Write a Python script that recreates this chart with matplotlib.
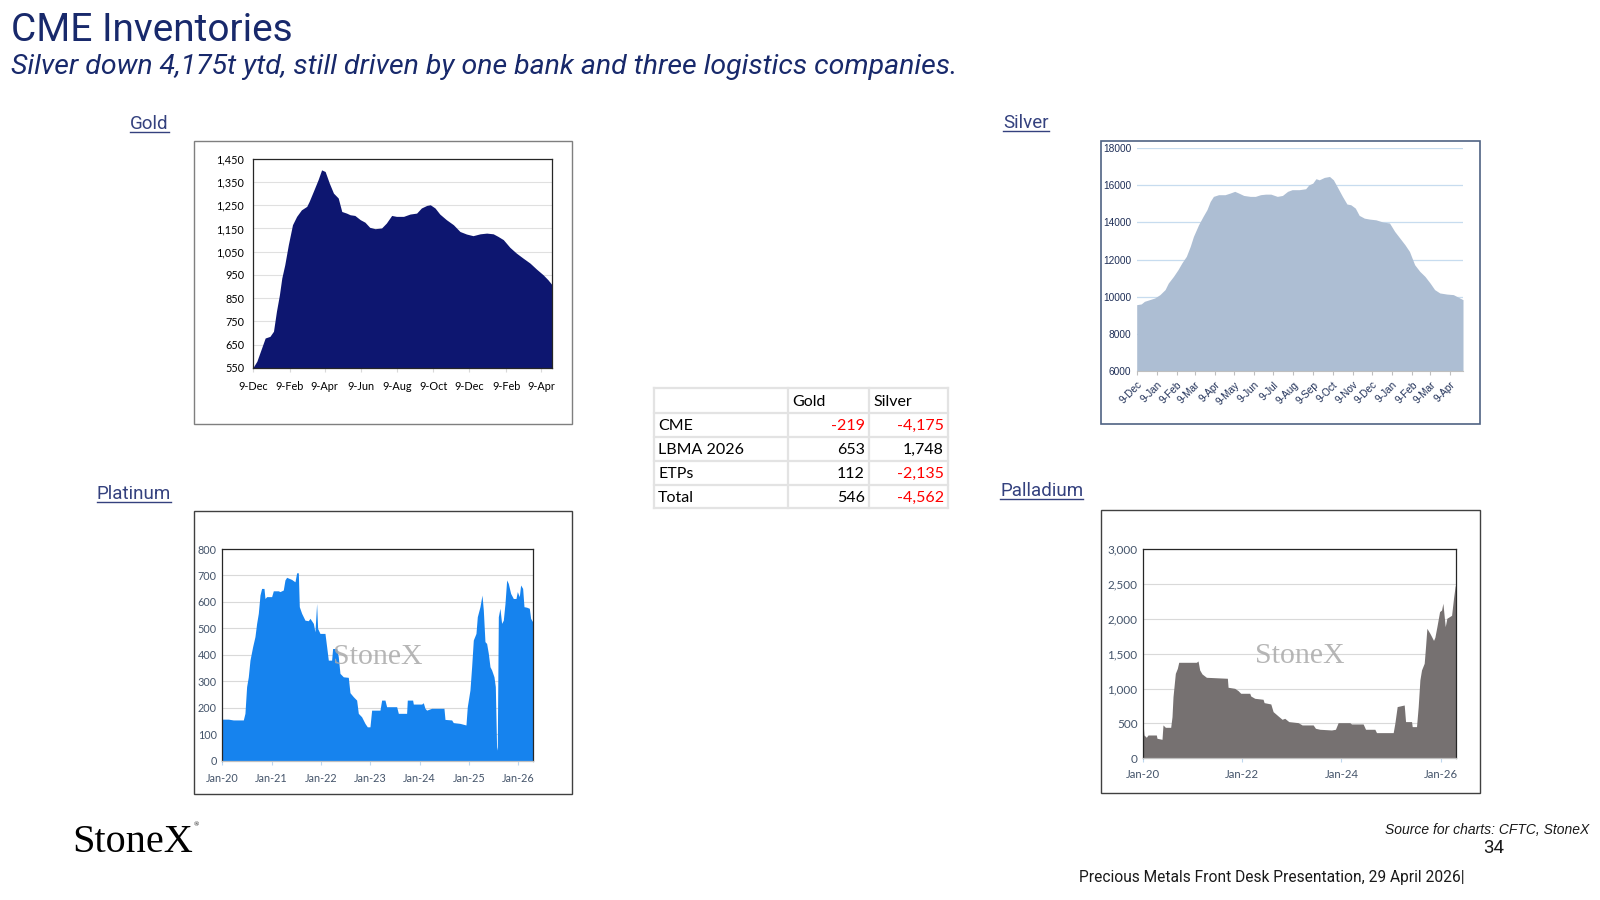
import matplotlib
matplotlib.use("Agg")
import matplotlib.pyplot as plt
from matplotlib.patches import Rectangle
from matplotlib.lines import Line2D
from matplotlib.ticker import FuncFormatter
import pandas as pd

W, H = 1600, 900

# ---- data ----
gold_dates = ['2024-12-09', '2024-12-16', '2024-12-24', '2024-12-30', '2025-01-07', '2025-01-13', '2025-01-18',
              '2025-01-23', '2025-01-27', '2025-02-01', '2025-02-07', '2025-02-14', '2025-02-21', '2025-03-01',
              '2025-03-10', '2025-03-14', '2025-03-21', '2025-03-29', '2025-04-04', '2025-04-10', '2025-04-17',
              '2025-04-24', '2025-05-02', '2025-05-08', '2025-05-16', '2025-05-22', '2025-05-30', '2025-06-08',
              '2025-06-16', '2025-06-24', '2025-07-03', '2025-07-14', '2025-07-22', '2025-07-31', '2025-08-08',
              '2025-08-20', '2025-08-31', '2025-09-11', '2025-09-19', '2025-09-28', '2025-10-04', '2025-10-12',
              '2025-10-20', '2025-10-31', '2025-11-12', '2025-11-23', '2025-12-04', '2025-12-15', '2025-12-27',
              '2026-01-07', '2026-01-18', '2026-01-26', '2026-02-04', '2026-02-15', '2026-02-26', '2026-03-09',
              '2026-03-21', '2026-04-01', '2026-04-12', '2026-04-20', '2026-04-27']
gold_vals = [550, 579, 636, 679, 686, 708, 794, 865, 937, 994, 1080, 1166, 1202, 1230, 1245, 1266, 1309, 1359,
             1402, 1395, 1345, 1302, 1281, 1223, 1216, 1209, 1206, 1188, 1177, 1155, 1149, 1152, 1173, 1206, 1202,
             1202, 1212, 1216, 1238, 1249, 1252, 1238, 1212, 1188, 1166, 1137, 1126, 1119, 1127, 1130, 1127, 1116,
             1102, 1069, 1044, 1023, 1001, 975, 951, 930, 908]
gold_tick_dates = ['2024-12-09', '2025-02-09', '2025-04-09', '2025-06-09', '2025-08-09', '2025-10-09',
                   '2025-12-09', '2026-02-09', '2026-04-09']
gold_tick_labels = ['9-Dec', '9-Feb', '9-Apr', '9-Jun', '9-Aug', '9-Oct', '9-Dec', '9-Feb', '9-Apr']

silver_dates = ['2024-12-09', '2024-12-16', '2024-12-21', '2024-12-29', '2025-01-06', '2025-01-14', '2025-01-22',
                '2025-01-27', '2025-02-04', '2025-02-11', '2025-02-17', '2025-02-24', '2025-03-02', '2025-03-07',
                '2025-03-15', '2025-03-22', '2025-03-28', '2025-04-02', '2025-04-07', '2025-04-15', '2025-04-25',
                '2025-05-03', '2025-05-10', '2025-05-16', '2025-05-24', '2025-06-03', '2025-06-11', '2025-06-19',
                '2025-06-27', '2025-07-05', '2025-07-15', '2025-07-23', '2025-07-31', '2025-08-07', '2025-08-18',
                '2025-08-28', '2025-09-02', '2025-09-08', '2025-09-13', '2025-09-18', '2025-09-26', '2025-10-04',
                '2025-10-10', '2025-10-17', '2025-10-24', '2025-10-31', '2025-11-06', '2025-11-13', '2025-11-19',
                '2025-11-27', '2025-12-05', '2025-12-15', '2025-12-26', '2026-01-05', '2026-01-13', '2026-01-21',
                '2026-01-29', '2026-02-05', '2026-02-13', '2026-02-21', '2026-03-01', '2026-03-09', '2026-03-16',
                '2026-03-24', '2026-04-04', '2026-04-14', '2026-04-24', '2026-04-29']
silver_vals = [9580, 9620, 9760, 9850, 9940, 10120, 10390, 10740, 11100, 11460, 11820, 12180, 12710, 13250,
               13880, 14330, 14690, 15130, 15400, 15490, 15490, 15580, 15670, 15580, 15450, 15400, 15400, 15490,
               15520, 15520, 15400, 15450, 15670, 15760, 15760, 15810, 16020, 16110, 16350, 16290, 16420, 16470,
               16290, 15850, 15400, 14990, 14950, 14770, 14380, 14230, 14180, 14140, 14020, 13970, 13520, 13160,
               12800, 12440, 11730, 11370, 11100, 10740, 10390, 10210, 10150, 10120, 9940, 9850]
silver_tick_dates = ['2024-12-09', '2025-01-09', '2025-02-09', '2025-03-09', '2025-04-09', '2025-05-09',
                     '2025-06-09', '2025-07-09', '2025-08-09', '2025-09-09', '2025-10-09', '2025-11-09',
                     '2025-12-09', '2026-01-09', '2026-02-09', '2026-03-09', '2026-04-09']
silver_tick_labels = ['9-Dec', '9-Jan', '9-Feb', '9-Mar', '9-Apr', '9-May', '9-Jun', '9-Jul', '9-Aug', '9-Sep',
                      '9-Oct', '9-Nov', '9-Dec', '9-Jan', '9-Feb', '9-Mar', '9-Apr']

# platinum / palladium: time in years since Jan-2020
plat_t = [0.000, 0.122, 0.223, 0.426, 0.459, 0.493, 0.527, 0.561, 0.615, 0.662, 0.696, 0.730, 0.764, 0.797,
          0.845, 0.865, 0.899, 1.000, 1.034, 1.135, 1.169, 1.236, 1.270, 1.304, 1.405, 1.473, 1.507, 1.541,
          1.561, 1.608, 1.676, 1.743, 1.777, 1.845, 1.878, 1.912, 1.932, 1.980, 2.081, 2.115, 2.149, 2.216,
          2.236, 2.318, 2.351, 2.385, 2.453, 2.554, 2.588, 2.655, 2.723, 2.757, 2.824, 2.892, 2.939, 2.993,
          3.027, 3.196, 3.230, 3.297, 3.331, 3.534, 3.568, 3.736, 3.750, 3.858, 3.872, 4.041, 4.074, 4.108,
          4.142, 4.243, 4.493, 4.514, 4.649, 4.682, 4.818, 4.939, 4.966, 5.020, 5.054, 5.088, 5.142, 5.169,
          5.223, 5.264, 5.291, 5.324, 5.358, 5.392, 5.426, 5.459, 5.507, 5.534, 5.561, 5.574, 5.595, 5.628,
          5.662, 5.696, 5.730, 5.764, 5.797, 5.845, 5.899, 5.953, 5.980, 6.020, 6.047, 6.088, 6.115, 6.169,
          6.223, 6.250, 6.291]
plat_vals = [157, 157, 154, 154, 179, 280, 317, 380, 431, 469, 519, 557, 626, 651, 651, 613, 620, 620, 642, 642,
             639, 645, 683, 693, 685, 676, 710, 710, 582, 557, 531, 529, 538, 519, 487, 594, 500, 481, 481, 431,
             380, 380, 424, 424, 393, 330, 317, 315, 257, 242, 229, 179, 166, 141, 128, 128, 191, 191, 229, 229,
             204, 204, 179, 179, 229, 229, 214, 214, 219, 198, 191, 198, 198, 156, 154, 144, 141, 135, 204, 267,
             355, 456, 481, 544, 582, 626, 569, 450, 443, 406, 355, 343, 317, 280, 40, 53, 544, 576, 519, 531,
             594, 683, 670, 632, 613, 613, 639, 620, 664, 651, 582, 580, 576, 538, 525]
plat_ticks = [0, 1, 2, 3, 4, 5, 6]
plat_tick_labels = ['Jan-20', 'Jan-21', 'Jan-22', 'Jan-23', 'Jan-24', 'Jan-25', 'Jan-26']

pall_t = [0.000, 0.020, 0.067, 0.101, 0.269, 0.282, 0.383, 0.403, 0.451, 0.558, 0.585, 0.605, 0.652, 0.693,
          0.720, 1.076, 1.110, 1.143, 1.190, 1.278, 1.701, 1.715, 1.849, 1.917, 1.970, 2.152, 2.172, 2.253,
          2.421, 2.441, 2.576, 2.623, 2.724, 2.804, 2.858, 2.939, 3.127, 3.208, 3.430, 3.477, 3.564, 3.800,
          3.880, 3.934, 4.169, 4.203, 4.438, 4.486, 4.674, 4.707, 5.044, 5.077, 5.124, 5.266, 5.293, 5.414,
          5.427, 5.514, 5.548, 5.582, 5.615, 5.669, 5.696, 5.723, 5.783, 5.857, 5.884, 5.925, 5.979, 6.019,
          6.046, 6.093, 6.126, 6.180, 6.221, 6.261, 6.295, 6.310]
pall_vals = [526, 334, 301, 334, 334, 287, 272, 478, 444, 444, 597, 884, 1218, 1290, 1376, 1376, 1395, 1266,
             1209, 1161, 1147, 1018, 1003, 970, 932, 932, 893, 860, 846, 798, 779, 669, 607, 559, 573, 526, 511,
             478, 478, 430, 416, 406, 416, 511, 511, 492, 492, 416, 416, 368, 368, 502, 741, 764, 526, 526, 454,
             454, 741, 1123, 1266, 1362, 1601, 1863, 1792, 1690, 1734, 1887, 2102, 2126, 2222, 1887, 2007, 2031,
             2050, 2300, 2480, 2420]
pall_ticks = [0, 2, 4, 6]
pall_tick_labels = ['Jan-20', 'Jan-22', 'Jan-24', 'Jan-26']

table_cols = ['', 'Gold', 'Silver']
table_rows = ['CME', 'LBMA 2026', 'ETPs', 'Total']
table_gold = [-219, 653, 112, 546]
table_silver = [-4175, 1748, -2135, -4562]

NAVY = '#18296b'
LABEL = '#34417e'
CAL = 'Lato'


def rect(x0, y0, x1, y1):
    return [x0 / W, 1 - y1 / H, (x1 - x0) / W, (y1 - y0) / H]


def frame(x0, y0, x1, y1, color, lw=1.0):
    fig.add_artist(Rectangle((x0 / W, 1 - y1 / H), (x1 - x0) / W, (y1 - y0) / H,
                             transform=fig.transFigure, fill=False, ec=color, lw=lw))


def ftext(x, y, s, **kw):
    return fig.text(x / W, 1 - y / H, s, **kw)


def underlined(x, y, s, **kw):
    t = ftext(x, y, s, va='baseline', **kw)
    fig.canvas.draw()
    bb = t.get_window_extent()
    yy = (H - y - 3) / H
    fig.add_artist(Line2D([bb.x0 / W, bb.x1 / W], [yy, yy], transform=fig.transFigure,
                          color=kw.get('color', 'k'), lw=1.0))


comma = FuncFormatter(lambda v, p: f'{int(v):,}')

fig = plt.figure(figsize=(16, 9), dpi=100)
fig.patch.set_facecolor('white')

# ---- header ----
ftext(11, 41, 'CME Inventories', fontsize=28, color=NAVY, family='Roboto', va='baseline')
ftext(11, 74, 'Silver down 4,175t ytd, still driven by one bank and three logistics companies.',
      fontsize=20.5, color=NAVY, family='Roboto', style='italic', va='baseline')

# ---- section labels ----
underlined(130, 129, 'Gold', fontsize=13.5, color=LABEL, family='Roboto')
underlined(1003, 128, 'Silver', fontsize=13.5, color=LABEL, family='Roboto')
underlined(97, 499, 'Platinum', fontsize=13.5, color=LABEL, family='Roboto')
underlined(1000, 496, 'Palladium', fontsize=13.5, color=LABEL, family='Roboto')

# ---- gold ----
frame(194, 141, 572, 424, '#7f7f7f')
ax = fig.add_axes(rect(252.7, 158.7, 552, 368))
gd = pd.to_datetime(gold_dates)
ax.fill_between(gd, gold_vals, 550, color='#0d1670', lw=0)
ax.set_xlim(gd[0], gd[-1])
ax.set_ylim(550, 1450)
ax.set_yticks(range(550, 1451, 100))
ax.yaxis.set_major_formatter(comma)
ax.set_xticks(pd.to_datetime(gold_tick_dates))
ax.set_xticklabels(gold_tick_labels)
ax.grid(axis='y', color='#e0e0e0', lw=0.8)
ax.set_axisbelow(True)
for s in ax.spines.values():
    s.set_color('#262626')
    s.set_linewidth(0.9)
ax.tick_params(axis='y', length=0, labelsize=7.8, pad=6)
ax.tick_params(axis='x', length=3, color='#d9d9d9', labelsize=7.8, pad=6)
for lb in ax.get_xticklabels() + ax.get_yticklabels():
    lb.set_family(CAL)

# ---- silver ----
frame(1100.7, 141, 1480, 424, '#4f6283', lw=1.2)
ax = fig.add_axes(rect(1136.7, 148, 1463, 371.3))
sd = pd.to_datetime(silver_dates)
ax.fill_between(sd, silver_vals, 6000, color='#adbed3', lw=0)
ax.set_xlim(sd[0], sd[-1])
ax.set_ylim(6000, 18000)
ax.set_yticks(range(6000, 18001, 2000))
ax.set_xticks(pd.to_datetime(silver_tick_dates))
ax.set_xticklabels(silver_tick_labels, rotation=45, ha='right', rotation_mode='anchor')
ax.grid(axis='y', color='#c7dcef', lw=0.9)
ax.set_axisbelow(True)
for k in ['top', 'right', 'left']:
    ax.spines[k].set_visible(False)
ax.spines['bottom'].set_color('#bfbfbf')
ax.tick_params(axis='y', length=0, labelsize=7.3, pad=4, labelcolor='#1f2f57')
ax.tick_params(axis='x', length=3, color='#bfbfbf', labelsize=7.3, pad=3, labelcolor='#1f2f57')
for lb in ax.get_xticklabels() + ax.get_yticklabels():
    lb.set_family('Liberation Sans')

# ---- platinum ----
frame(194, 510.7, 572, 794, '#404040')
ax = fig.add_axes(rect(222.3, 549, 533.3, 760.7))
ax.fill_between(plat_t, plat_vals, 0, color='#1683ee', lw=0)
ax.set_xlim(0, 6.304)
ax.set_ylim(0, 800)
ax.set_yticks(range(0, 801, 100))
ax.set_xticks(plat_ticks)
ax.set_xticklabels(plat_tick_labels)
ax.grid(axis='y', color='#d9d9d9', lw=0.8)
ax.set_axisbelow(True)
for s in ax.spines.values():
    s.set_color('#262626')
    s.set_linewidth(0.9)
ax.spines['bottom'].set_color('#bfbfbf')
ax.tick_params(axis='y', length=0, labelsize=7.8, pad=4, labelcolor='#44546a')
ax.tick_params(axis='x', length=3, color='#bdd7ee', labelsize=7.8, pad=6, labelcolor='#44546a')
for lb in ax.get_xticklabels() + ax.get_yticklabels():
    lb.set_family(CAL)
ax.text(0.5, 0.49, 'StoneX', transform=ax.transAxes, ha='center', va='center', fontsize=21.5,
        family='Liberation Serif', color='#a9a9a9', alpha=0.85)

# ---- palladium ----
frame(1100.7, 510, 1480, 793, '#404040')
ax = fig.add_axes(rect(1143, 549, 1456, 758.3))
ax.fill_between(pall_t, pall_vals, 0, color='#767171', lw=0)
ax.set_xlim(0, 6.31)
ax.set_ylim(0, 3000)
ax.set_yticks(range(0, 3001, 500))
ax.yaxis.set_major_formatter(comma)
ax.set_xticks(pall_ticks)
ax.set_xticklabels(pall_tick_labels)
ax.grid(axis='y', color='#d9d9d9', lw=0.8)
ax.set_axisbelow(True)
for s in ax.spines.values():
    s.set_color('#262626')
    s.set_linewidth(0.9)
ax.spines['bottom'].set_color('#bfbfbf')
ax.tick_params(axis='y', length=0, labelsize=8.5, pad=4, labelcolor='#44546a')
ax.tick_params(axis='x', length=3, color='#bdd7ee', labelsize=8.2, pad=5, labelcolor='#44546a')
for lb in ax.get_xticklabels() + ax.get_yticklabels():
    lb.set_family(CAL)
ax.text(0.5, 0.49, 'StoneX', transform=ax.transAxes, ha='center', va='center', fontsize=21.5,
        family='Liberation Serif', color='#a9a9a9', alpha=0.85)

# ---- table ----
col_x = [654, 788, 869, 948]
row_y = [388, 413, 437, 461, 485, 508]
tax = fig.add_axes(rect(col_x[0], row_y[0], col_x[-1], row_y[-1]))
tax.set_xlim(col_x[0], col_x[-1])
tax.set_ylim(row_y[-1], row_y[0])
tax.axis('off')
for yv in row_y:
    tax.plot([col_x[0], col_x[-1]], [yv, yv], color='#e3e3e3', lw=1.6, clip_on=False)
for xv in col_x:
    tax.plot([xv, xv], [row_y[0], row_y[-1]], color='#e3e3e3', lw=1.6, clip_on=False)
for j, c in enumerate(table_cols):
    tax.text(col_x[j] + 4, (row_y[0] + row_y[1]) / 2 + 1, c, ha='left', va='center', fontsize=11.5, family=CAL)
for i, r in enumerate(table_rows):
    yc = (row_y[i + 1] + row_y[i + 2]) / 2 + 1
    tax.text(col_x[0] + 4, yc, r, ha='left', va='center', fontsize=11.5, family=CAL)
    for j, v in enumerate([table_gold[i], table_silver[i]]):
        tax.text(col_x[j + 2] - 4, yc, f'{v:,}', ha='right', va='center', fontsize=11.5, family=CAL,
                 color='#ff0000' if v < 0 else 'black')

# ---- footer ----
ftext(72, 852, 'StoneX', fontsize=29, family='Liberation Serif', color='black', va='baseline')
ftext(194, 826, '\u00ae', fontsize=5, family='Liberation Serif', color='black', va='baseline')
ftext(1589, 834, 'Source for charts: CFTC, StoneX', fontsize=10, style='italic', family='Liberation Sans',
      ha='right', va='baseline', color='#1a1a1a')
ftext(1494, 853, '34', fontsize=13.5, family='Roboto', ha='center', va='baseline', color='#1a1a1a')
ftext(1079, 882, 'Precious Metals Front Desk Presentation, 29 April 2026|', fontsize=11.2, family='Roboto',
      va='baseline', color='#1a1a1a')

fig.savefig('out.png', dpi=100)
